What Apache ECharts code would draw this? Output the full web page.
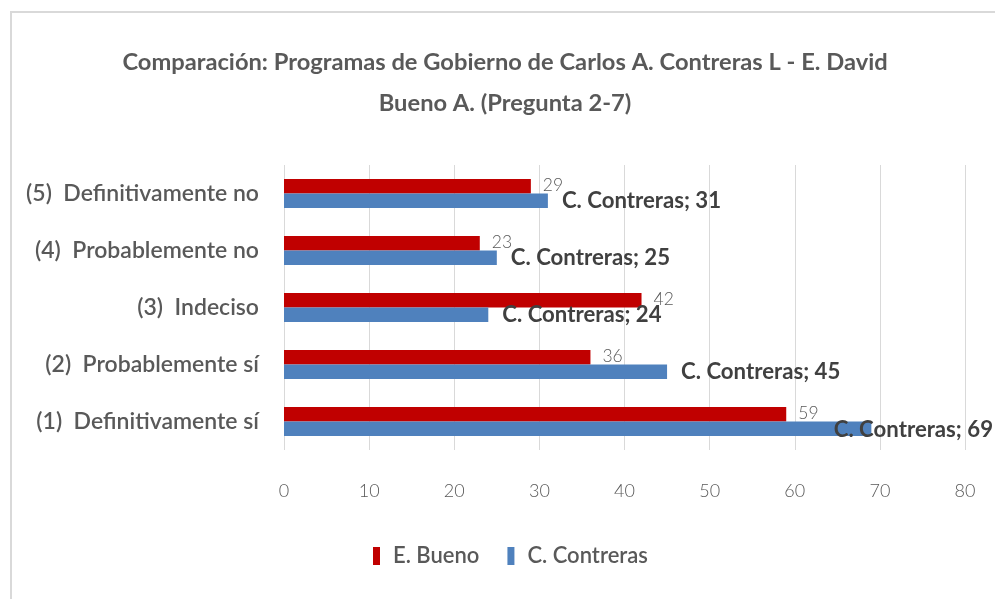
<!DOCTYPE html>
<html>
<head>
<meta charset="utf-8">
<script src="https://cdn.jsdelivr.net/npm/echarts@6/dist/echarts.min.js"></script>
<style>html,body{margin:0;padding:0;background:#fff}#c{width:995px;height:599px}</style>
</head>
<body>
<div id="c"></div>
<script>
var titleText = 'Comparación: Programas de Gobierno de Carlos A. Contreras L - E. David\nBueno A. (Pregunta 2-7)';
var categories = ['(1)  Definitivamente sí', '(2)  Probablemente sí', '(3)  Indeciso', '(4)  Probablemente no', '(5)  Definitivamente no'];
var seriesNames = ['E. Bueno', 'C. Contreras'];
var buenoValues = [59, 36, 42, 23, 29];
var contrerasValues = [69, 45, 24, 25, 31];
var xTicks = [0, 10, 20, 30, 40, 50, 60, 70, 80];

var FONT = "Lato, Roboto, sans-serif";
var chart = echarts.init(document.getElementById('c'), null, {renderer: 'canvas'});
chart.setOption({
  backgroundColor: '#ffffff',
  textStyle: {fontFamily: FONT},
  graphic: [{
    type: 'rect', silent: true, z: -10,
    shape: {x: 11, y: 12, width: 1000, height: 1000},
    style: {fill: 'none', stroke: '#d9d9d9', lineWidth: 2}
  }],
  title: {
    text: titleText, left: 500, top: 37, textAlign: 'center',
    textStyle: {fontFamily: FONT, fontSize: 23.7, fontWeight: 'bold', color: '#595959', lineHeight: 41}
  },
  legend: {
    data: seriesNames, top: 540, left: 368, itemWidth: 7, itemHeight: 18, itemGap: 28,
    icon: 'rect',
    textStyle: {fontFamily: FONT, fontSize: 22, fontWeight: 600, color: '#595959', padding: [0, 0, 0, 8]}
  },
  grid: {left: 284, right: 30, top: 165, bottom: 149, containLabel: false, outerBoundsMode: 'none'},
  xAxis: {
    type: 'value', min: xTicks[0], max: xTicks[xTicks.length - 1], interval: 10,
    axisLine: {show: false}, axisTick: {show: false},
    splitLine: {show: true, lineStyle: {color: '#d9d9d9', width: 1}},
    axisLabel: {margin: 32, fontFamily: FONT, fontSize: 18, fontWeight: 300, color: '#595959'}
  },
  yAxis: {
    type: 'category', data: categories,
    axisLine: {show: false}, axisTick: {show: false},
    axisLabel: {margin: 25, fontFamily: FONT, fontSize: 23, fontWeight: 600, color: '#595959'}
  },
  series: [{
    name: seriesNames[0], type: 'bar', data: buenoValues, barWidth: 14.5, barGap: '0%',
    itemStyle: {color: '#c00000'},
    label: {show: true, position: 'right', distance: 12, offset: [0, -1], fontFamily: FONT, fontSize: 17.5, fontWeight: 300, color: '#595959'}
  }, {
    name: seriesNames[1], type: 'bar', data: contrerasValues, barWidth: 14.5, barGap: '0%',
    itemStyle: {color: '#4f81bd'},
    label: {show: true, position: 'right', distance: 14, offset: [0, 1], fontFamily: FONT, fontSize: 22.2, fontWeight: 'bold', color: '#404040',
      formatter: function (p) { return p.seriesName + '; ' + p.value; }},
    labelLayout: function (p) {
      var r = p.labelRect;
      if (r.x + r.width > 993) {
        return {x: 993 - r.width, y: r.y, align: 'left', verticalAlign: 'top'};
      }
      return {};
    }
  }]
});
</script>
</body>
</html>
